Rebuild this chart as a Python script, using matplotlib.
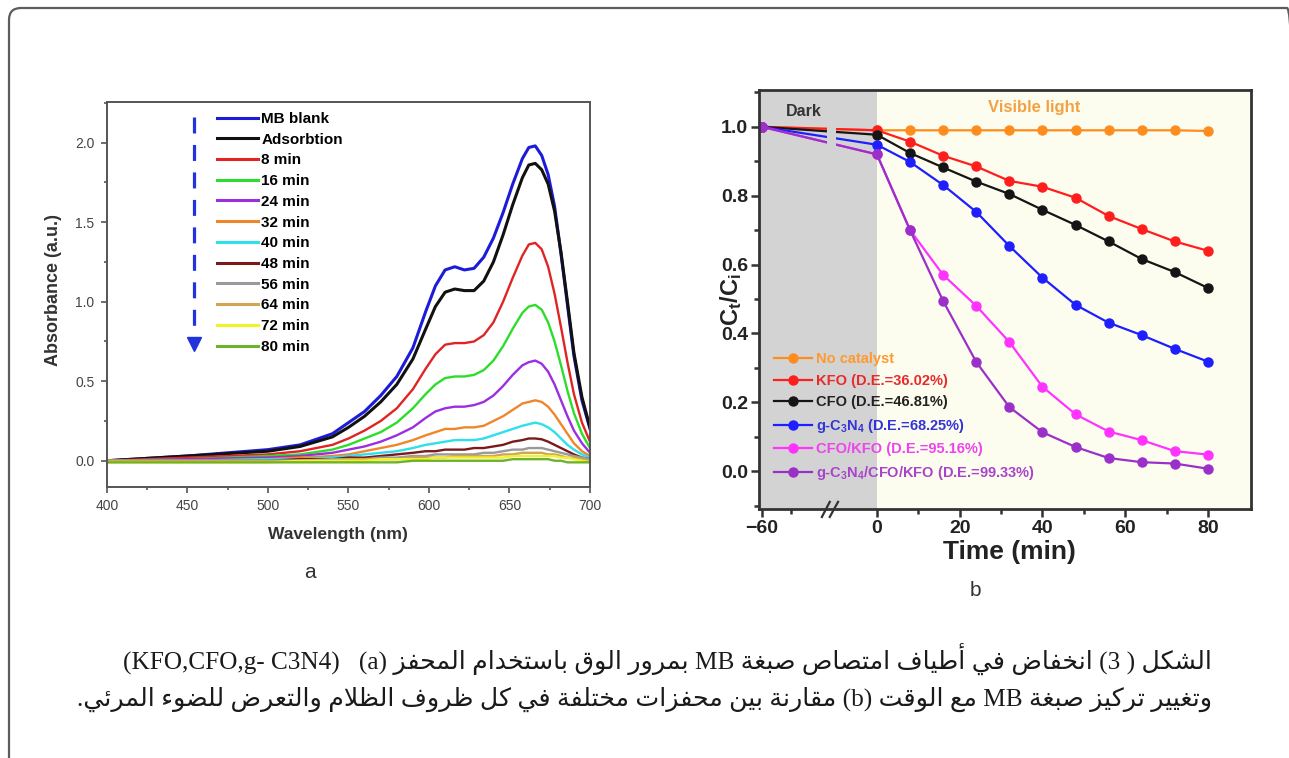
import numpy as np
import matplotlib
matplotlib.use("Agg")
import matplotlib.pyplot as plt
from matplotlib.patches import FancyBboxPatch
from matplotlib.transforms import IdentityTransform, blended_transform_factory
from matplotlib.ticker import MultipleLocator, FixedLocator, FormatStrFormatter

plt.rcParams['font.family'] = ['Liberation Sans', 'DejaVu Sans']
plt.rcParams['mathtext.fontset'] = 'custom'
plt.rcParams['mathtext.rm'] = 'Liberation Sans:bold'
plt.rcParams['mathtext.it'] = 'Liberation Sans:bold'
plt.rcParams['mathtext.bf'] = 'Liberation Sans:bold'
plt.rcParams['mathtext.default'] = 'rm'

W, H = 1289, 758

# ---------------- panel a : absorbance spectra ----------------
wavelength = [400, 450, 500, 520, 540, 550, 560, 570, 580, 590, 598, 604, 610, 616, 622, 628,
              634, 640, 646, 652, 658, 662, 666, 670, 674, 678, 682, 686, 690, 695, 700]
mb_blank = [0.00, 0.03, 0.07, 0.10, 0.17, 0.24, 0.31, 0.41, 0.53, 0.71, 0.94, 1.10, 1.20, 1.22,
            1.20, 1.21, 1.28, 1.40, 1.56, 1.74, 1.90, 1.97, 1.98, 1.92, 1.80, 1.60, 1.30, 0.98,
            0.66, 0.38, 0.20]
adsorption = [0.00, 0.03, 0.06, 0.09, 0.15, 0.21, 0.28, 0.37, 0.48, 0.64, 0.83, 0.97, 1.06, 1.08,
              1.07, 1.07, 1.13, 1.25, 1.42, 1.61, 1.78, 1.86, 1.87, 1.83, 1.74, 1.57, 1.31, 1.00,
              0.68, 0.40, 0.21]
min8 = [0.00, 0.02, 0.04, 0.06, 0.10, 0.14, 0.19, 0.25, 0.33, 0.45, 0.58, 0.67, 0.73, 0.74,
        0.74, 0.75, 0.79, 0.87, 1.00, 1.15, 1.29, 1.36, 1.37, 1.33, 1.22, 1.05, 0.84, 0.62,
        0.42, 0.24, 0.12]
min16 = [0.00, 0.01, 0.03, 0.04, 0.07, 0.10, 0.14, 0.18, 0.24, 0.33, 0.42, 0.48, 0.52, 0.53,
         0.53, 0.54, 0.57, 0.63, 0.72, 0.83, 0.93, 0.97, 0.98, 0.95, 0.87, 0.75, 0.60, 0.44,
         0.30, 0.17, 0.08]
min24 = [0.00, 0.01, 0.02, 0.03, 0.05, 0.07, 0.09, 0.12, 0.16, 0.21, 0.27, 0.31, 0.33, 0.34,
         0.34, 0.35, 0.37, 0.41, 0.47, 0.54, 0.60, 0.62, 0.63, 0.61, 0.56, 0.48, 0.38, 0.28,
         0.19, 0.11, 0.05]
min32 = [0.00, 0.00, 0.01, 0.02, 0.03, 0.04, 0.06, 0.08, 0.10, 0.13, 0.16, 0.18, 0.20, 0.20,
         0.21, 0.21, 0.22, 0.25, 0.28, 0.32, 0.36, 0.37, 0.38, 0.37, 0.34, 0.29, 0.23, 0.17,
         0.11, 0.06, 0.03]
min40 = [0.00, 0.00, 0.01, 0.01, 0.02, 0.03, 0.04, 0.05, 0.06, 0.08, 0.10, 0.11, 0.12, 0.13,
         0.13, 0.13, 0.14, 0.16, 0.18, 0.20, 0.22, 0.23, 0.24, 0.23, 0.21, 0.18, 0.14, 0.10,
         0.07, 0.04, 0.02]
min48 = [0.00, 0.00, 0.00, 0.01, 0.01, 0.02, 0.02, 0.03, 0.04, 0.05, 0.06, 0.06, 0.07, 0.07,
         0.07, 0.08, 0.08, 0.09, 0.10, 0.12, 0.13, 0.14, 0.14, 0.135, 0.12, 0.10, 0.08, 0.06,
         0.04, 0.02, 0.01]
min56 = [0.00, 0.00, 0.00, 0.00, 0.01, 0.01, 0.01, 0.02, 0.02, 0.03, 0.03, 0.04, 0.04, 0.04,
         0.04, 0.04, 0.05, 0.05, 0.06, 0.07, 0.07, 0.08, 0.08, 0.08, 0.07, 0.06, 0.05, 0.04,
         0.03, 0.02, 0.01]
min64 = [0.00, 0.00, 0.00, 0.00, 0.00, 0.01, 0.01, 0.01, 0.01, 0.02, 0.02, 0.02, 0.02, 0.03,
         0.03, 0.03, 0.03, 0.03, 0.04, 0.04, 0.05, 0.05, 0.05, 0.05, 0.04, 0.04, 0.03, 0.02,
         0.02, 0.01, 0.00]
min72 = [-0.01, -0.01, -0.01, 0.00, 0.00, 0.00, 0.00, 0.01, 0.01, 0.01, 0.01, 0.02, 0.02, 0.02,
         0.02, 0.02, 0.02, 0.02, 0.02, 0.03, 0.03, 0.03, 0.03, 0.03, 0.03, 0.03, 0.02, 0.02,
         0.01, 0.00, -0.01]
min80 = [-0.01, -0.01, -0.01, -0.01, -0.01, -0.01, -0.01, -0.01, -0.01, 0.00, 0.00, 0.00, 0.00,
         0.00, 0.00, 0.00, 0.00, 0.00, 0.00, 0.01, 0.01, 0.01, 0.01, 0.01, 0.01, 0.00, 0.00,
         -0.01, -0.01, -0.01, -0.01]

spectra = [mb_blank, adsorption, min8, min16, min24, min32, min40, min48, min56, min64, min72, min80]
spectra_labels = ["MB blank", "Adsorbtion", "8 min", "16 min", "24 min", "32 min", "40 min",
                  "48 min", "56 min", "64 min", "72 min", "80 min"]
spectra_colors = ["#1c1cd8", "#111111", "#e02424", "#2ade2a", "#9b2ee0", "#f0862a", "#2ee0ea",
                  "#7a1a1a", "#9a9a9a", "#d0a650", "#f2f22a", "#6cb22a"]

# ---------------- panel b : C/C0 vs time ----------------
time = [-60, 0, 8, 16, 24, 32, 40, 48, 56, 64, 72, 80]
no_catalyst = [1.0, 0.99, 0.99, 0.99, 0.99, 0.99, 0.99, 0.99, 0.99, 0.99, 0.99, 0.988]
kfo = [1.0, 0.99, 0.957, 0.916, 0.885, 0.843, 0.826, 0.794, 0.741, 0.703, 0.667, 0.64]
cfo = [1.0, 0.977, 0.924, 0.882, 0.841, 0.805, 0.759, 0.715, 0.667, 0.616, 0.578, 0.532]
gcn = [1.0, 0.948, 0.898, 0.831, 0.753, 0.654, 0.562, 0.483, 0.431, 0.395, 0.355, 0.318]
cfo_kfo = [1.0, 0.92, 0.70, 0.57, 0.48, 0.375, 0.245, 0.165, 0.115, 0.09, 0.058, 0.048]
gcn_cfo_kfo = [1.0, 0.92, 0.70, 0.494, 0.317, 0.186, 0.113, 0.07, 0.038, 0.026, 0.022, 0.007]

series_b = [no_catalyst, kfo, cfo, gcn, cfo_kfo, gcn_cfo_kfo]
series_b_labels = ["No catalyst", "KFO (D.E.=36.02%)", "CFO (D.E.=46.81%)",
                   "g-C$_3$N$_4$ (D.E.=68.25%)", "CFO/KFO (D.E.=95.16%)",
                   "g-C$_3$N$_4$/CFO/KFO (D.E.=99.33%)"]
series_b_colors = ["#ff8c1e", "#ff1e1e", "#151515", "#1e1eff", "#ff33ff", "#9a30c8"]
series_b_text = ["#ff9a30", "#e82a2a", "#222222", "#3434d8", "#ee44ee", "#a844cc"]

# ---------------- caption (Arabic, logical order) ----------------
caption_1 = ["الشكل", "(3 )", "انخفاض", "في", "أطياف", "امتصاص", "صبغة", "MB", "بمرور",
             "الوق", "باستخدام", "المحفز", "  (a)", "(KFO,CFO,g- C3N4)"]
caption_2 = ["وتغيير", "تركيز", "صبغة", "MB", "مع", "الوقت", "(b)", "مقارنة", "بين", "محفزات",
             "مختلفة", "في", "كل", "ظروف", "الظلام", "والتعرض", "للضوء", "المرئي."]

# minimal Arabic shaping (presentation forms) + right-to-left ordering
DUAL = dict(zip("ئبتثجحخسشصضطظعغفقكلمنهي",
                [0xFE89, 0xFE8F, 0xFE95, 0xFE99, 0xFE9D, 0xFEA1, 0xFEA5, 0xFEB1, 0xFEB5, 0xFEB9,
                 0xFEBD, 0xFEC1, 0xFEC5, 0xFEC9, 0xFECD, 0xFED1, 0xFED5, 0xFED9, 0xFEDD, 0xFEE1,
                 0xFEE5, 0xFEE9, 0xFEF1]))
RIGHT = dict(zip("آأؤإاةدذرزوى",
                 [0xFE81, 0xFE83, 0xFE85, 0xFE87, 0xFE8D, 0xFE93, 0xFEA9, 0xFEAB, 0xFEAD, 0xFEAF,
                  0xFEED, 0xFEEF]))
LAM_ALEF = {"آ": 0xFEF5, "أ": 0xFEF7, "إ": 0xFEF9, "ا": 0xFEFB}


def shape_word(word):
    units = []
    i = 0
    while i < len(word):
        if word[i] == "ل" and i + 1 < len(word) and word[i + 1] in LAM_ALEF:
            units.append(("LA", word[i + 1]))
            i += 2
        else:
            units.append(("C", word[i]))
            i += 1
    out = ""
    for k, (kind, c) in enumerate(units):
        prev = units[k - 1] if k > 0 else None
        nxt = units[k + 1] if k + 1 < len(units) else None
        p = prev is not None and prev[0] == "C" and prev[1] in DUAL
        if kind == "LA":
            out += chr(LAM_ALEF[c] + (1 if p else 0))
            continue
        q = nxt is not None and (nxt[0] == "LA" or nxt[1] in DUAL or nxt[1] in RIGHT)
        if c in DUAL:
            out += chr(DUAL[c] + (3 if p and q else 1 if p else 2 if q else 0))
        elif c in RIGHT:
            out += chr(RIGHT[c] + (1 if p else 0))
        else:
            out += c
    return out


def rtl_line(tokens):
    out = []
    for tok in reversed(tokens):
        if any("\u0600" <= ch <= "\u06ff" for ch in tok):
            out.append(shape_word(tok)[::-1])
        else:
            out.append(tok)
    return " ".join(out)


fig = plt.figure(figsize=(W / 100, H / 100), dpi=100)

# page frame (rounded, open to the bottom-right)
frame = FancyBboxPatch((9, -40), 1290, 790, boxstyle="round,pad=0,rounding_size=12",
                       transform=IdentityTransform(), fill=False, edgecolor="#5c5c5c", linewidth=1.6)
fig.patches.append(frame)

# ---------- panel a ----------
axa = fig.add_axes([107 / W, 1 - 487 / H, 483 / W, 385 / H])
for vals, lab, col in zip(spectra, spectra_labels, spectra_colors):
    lw = 2.2 if lab in ("MB blank", "Adsorbtion") else 1.7
    axa.plot(wavelength, vals, color=col, lw=lw, label=lab)
axa.set_xlim(400, 700)
axa.set_ylim(-0.165, 2.256)
axa.xaxis.set_major_locator(MultipleLocator(50))
axa.xaxis.set_minor_locator(MultipleLocator(25))
axa.yaxis.set_major_locator(MultipleLocator(0.5))
axa.yaxis.set_minor_locator(MultipleLocator(0.25))
axa.yaxis.set_major_formatter(FormatStrFormatter("%.1f"))
for s in axa.spines.values():
    s.set_color("#555555")
    s.set_linewidth(1.4)
axa.tick_params(which="both", direction="out", color="#555555", width=1.2, labelsize=10,
                labelcolor="#444444")
axa.tick_params(which="major", length=4, pad=5)
axa.tick_params(which="minor", length=2.5)

lega = axa.legend(loc="upper left", bbox_to_anchor=(0.212, 0.994), frameon=False, borderpad=0,
                  handlelength=2.7, handletextpad=0.2, labelspacing=0.44,
                  prop={"weight": "bold", "size": 11})
for line in lega.get_lines():
    line.set_linewidth(2.2)

# dashed arrow
axa.plot([0.180, 0.180], [0.962, 0.385], transform=axa.transAxes, color="#2233dd", lw=2.3,
         dashes=(5.0, 3.6))
axa.plot([0.180], [0.372], transform=axa.transAxes, marker="v", ms=10, color="#2233dd",
         clip_on=False)

fig.text(53 / W, 1 - 290 / H, "Absorbance (a.u.)", rotation=90, ha="center", va="center",
         fontsize=13, fontweight="bold", color="#333333")
fig.text(338 / W, 1 - 535 / H, "Wavelength (nm)", ha="center", va="center",
         fontsize=12.5, fontweight="bold", color="#333333")
fig.text(310 / W, 1 - 572 / H, "a", ha="center", va="center", fontsize=15, color="#333333")

# ---------- panel b ----------
DARK_SCALE = 0.463


def xmap(t):
    t = np.asarray(t, dtype=float)
    return np.where(t < 0, t * DARK_SCALE, t)


x0, x1 = -28.5, 90.4
axb = fig.add_axes([759 / W, 1 - 509 / H, 492 / W, 419 / H])
axb.axvspan(x0, 0, color="#d3d3d3", zorder=0, lw=0)
axb.axvspan(0, x1, color="#fdfdef", zorder=0, lw=0)
for vals, lab, col in zip(series_b, series_b_labels, series_b_colors):
    axb.plot(xmap(time), vals, "-o", color=col, lw=1.6, ms=6.5, mec=col, label=lab, zorder=2)
# axis break gap in the dark period
axb.axvspan(-12.1, -9.9, color="#d3d3d3", zorder=2.5, lw=0)
axb.set_xlim(x0, x1)
axb.set_ylim(-0.11, 1.107)

xt_major = [-60, 0, 20, 40, 60, 80]
xt_minor = [-45, 10, 30, 50, 70]
axb.xaxis.set_major_locator(FixedLocator(xmap(xt_major)))
axb.xaxis.set_minor_locator(FixedLocator(xmap(xt_minor)))
axb.set_xticklabels(["\u221260" if v < 0 else str(v) for v in xt_major])
axb.yaxis.set_major_locator(MultipleLocator(0.2))
axb.yaxis.set_minor_locator(MultipleLocator(0.1))
axb.yaxis.set_major_formatter(FormatStrFormatter("%.1f"))
for s in axb.spines.values():
    s.set_color("#333333")
    s.set_linewidth(2.0)
axb.tick_params(which="both", direction="out", color="#333333", width=1.8, labelsize=14,
                labelcolor="#222222")
axb.tick_params(which="major", length=6, pad=2)
axb.tick_params(which="minor", length=3.5)
for lbl in axb.get_xticklabels() + axb.get_yticklabels():
    lbl.set_fontweight("bold")

# break marks on the bottom axis
trb = blended_transform_factory(axb.transData, axb.transAxes)
for xs in ([-13.3, -11.4], [-11.4, -9.4]):
    axb.plot(xs, [-0.019, 0.017], transform=trb, color="#333333", lw=1.6, clip_on=False, zorder=5)

axb.text(xmap(-60) + 10, 1.045, "Dark", ha="center", va="center", fontsize=11.5,
         fontweight="bold", color="#333333")
axb.text(38, 1.055, "Visible light", ha="center", va="center", fontsize=12,
         fontweight="bold", color="#f2a244")

legb = axb.legend(loc="upper left", bbox_to_anchor=(0.016, 0.392), frameon=False, borderpad=0,
                  handlelength=2.6, handletextpad=0.3, labelspacing=0.52,
                  prop={"weight": "bold", "size": 10.5})
for txt, col in zip(legb.get_texts(), series_b_text):
    txt.set_color(col)

fig.text(731 / W, 1 - 300 / H, "C$_t$/C$_i$", rotation=90, ha="center", va="center",
         fontsize=17, fontweight="bold", color="#222222")
fig.text(1009 / W, 1 - 552 / H, "Time (min)", ha="center", va="center",
         fontsize=19, fontweight="bold", color="#222222")
fig.text(975 / W, 1 - 590 / H, "b", ha="center", va="center", fontsize=15, color="#333333")

# ---------- caption ----------
cap_family = ["Liberation Serif", "DejaVu Sans"]
t1 = fig.text(1212 / W, 1 - 659 / H, rtl_line(caption_1), ha="right", va="center",
              fontsize=16, family=cap_family, color="#1a1a1a")
t2 = fig.text(1212 / W, 1 - 699 / H, rtl_line(caption_2), ha="right", va="center",
              fontsize=16, family=cap_family, color="#1a1a1a")
renderer = fig.canvas.get_renderer()
cap_fs = 16 * 1090 / t1.get_window_extent(renderer).width
t1.set_fontsize(cap_fs)
t2.set_fontsize(cap_fs)

fig.savefig("out.png", dpi=100)
